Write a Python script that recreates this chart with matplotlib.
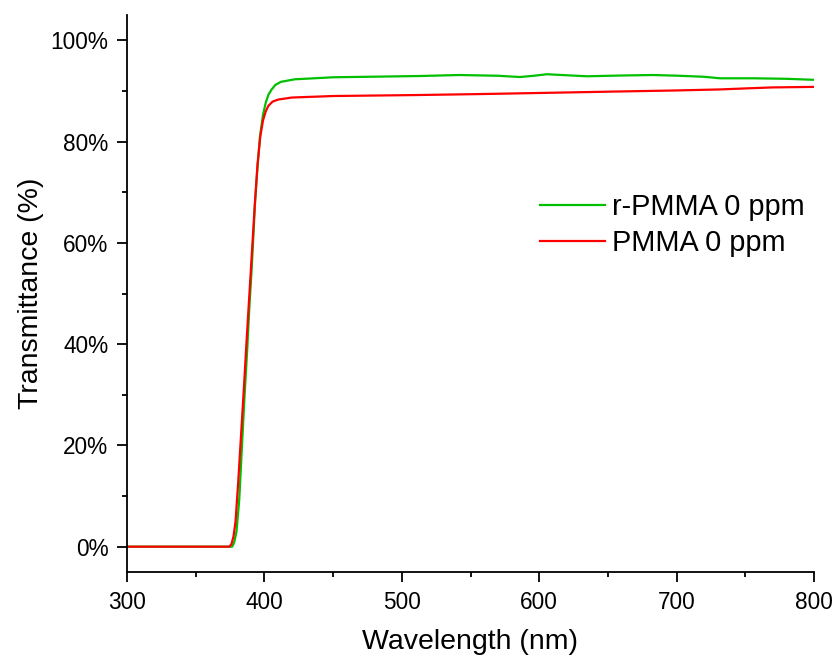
import matplotlib
matplotlib.use("Agg")
import matplotlib.pyplot as plt
from matplotlib.ticker import MultipleLocator, FuncFormatter

plt.rcParams['font.family'] = ['Liberation Sans', 'DejaVu Sans']

wl_green = [300, 370, 376.5, 378, 379.7, 381.7, 383.7, 385.6, 387.5, 389, 390.7, 392, 393.2,
            395, 396.8, 399, 401, 403, 405.3, 408, 412, 422, 450, 513, 542, 570, 586, 596,
            605.6, 620, 634.7, 660, 683, 702, 720, 731.6, 756, 780, 800]
t_green = [0, 0, 0, 0.8, 3, 9.3, 20, 30, 39, 47, 54.7, 61.5, 68,
           75, 81.1, 85.3, 87.7, 89.3, 90.3, 91.2, 91.8, 92.3, 92.7, 92.95, 93.15, 93.0, 92.75, 93.0,
           93.3, 93.1, 92.9, 93.05, 93.15, 93.0, 92.8, 92.5, 92.5, 92.4, 92.2]

wl_red = [300, 370, 374.5, 376, 377.5, 379, 381, 383, 385, 387, 389, 391, 393, 395, 397,
          399, 401, 403, 406, 410, 420, 450, 513, 560, 600, 658.8, 700, 731.6, 750,
          770, 799, 800]
t_red = [0, 0, 0, 0.5, 2, 5, 13, 22, 31, 40.5, 49.5, 58.5, 67.5, 75.5, 81,
         84.2, 86, 87.1, 87.9, 88.3, 88.7, 89.0, 89.2, 89.4, 89.6, 89.9, 90.1, 90.3, 90.5,
         90.7, 90.8, 90.8]

labels = ['r-PMMA 0 ppm', 'PMMA 0 ppm']

fig = plt.figure(figsize=(8.37, 6.61), dpi=100)
ax = fig.add_axes([127 / 837, 1 - 572 / 661, (814 - 127) / 837, (572 - 15) / 661])
ax.plot(wl_green, t_green, color='#00c000', lw=1.6, label=labels[0])
ax.plot(wl_red, t_red, color='#ff0000', lw=1.6, label=labels[1])

ax.set_xlim(300, 800)
ax.set_ylim(-5, 105)
ax.spines['top'].set_visible(False)
ax.spines['right'].set_visible(False)
for s in ('left', 'bottom'):
    ax.spines[s].set_linewidth(1.3)
ax.xaxis.set_major_locator(MultipleLocator(100))
ax.xaxis.set_minor_locator(MultipleLocator(50))
ax.yaxis.set_major_locator(MultipleLocator(20))
ax.yaxis.set_minor_locator(MultipleLocator(10))
ax.yaxis.set_major_formatter(FuncFormatter(lambda v, p: f"{v:.0f}%"))
ax.tick_params(which='major', direction='out', length=7.4, width=1.3, labelsize=16.3, pad=6)
ax.tick_params(which='minor', direction='out', length=3.8, width=1.3)
ax.set_xlabel('Wavelength (nm)', fontsize=20.5, labelpad=11)
ax.set_ylabel('Transmittance (%)', fontsize=20.5, labelpad=4.5)

ax.legend(loc='upper left', bbox_to_anchor=(540 / 837, 1 - 193 / 661), bbox_transform=fig.transFigure,
          frameon=False, fontsize=20.8, handlelength=2.25, handletextpad=0.25, labelspacing=0.27,
          borderpad=0, borderaxespad=0)

fig.savefig('out.png', dpi=100)
